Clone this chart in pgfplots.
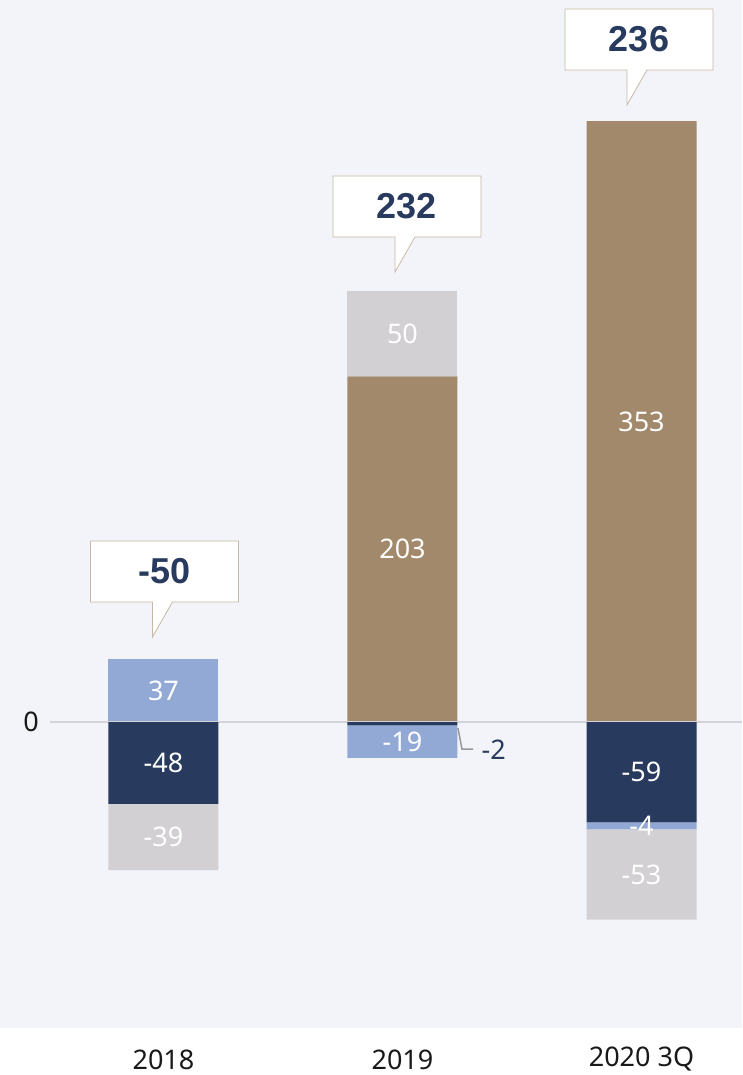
\documentclass[border=0pt]{standalone}
\usepackage{pgfplots}
\pgfplotsset{compat=1.18}
\usepackage{fontspec}
\setmainfont{Noto Sans}
\newfontfamily\calloutfont{Liberation Sans}

\definecolor{bgc}{HTML}{F3F4F9}
\definecolor{navy}{HTML}{283B5E}
\definecolor{lblue}{HTML}{92A9D6}
\definecolor{barbrown}{HTML}{A3896B}
\definecolor{lgray}{HTML}{D2D0D2}
\definecolor{boxc}{HTML}{C9B8A5}
\definecolor{zline}{HTML}{D3D3D8}

\pgfplotsset{
  base/.style={
    at={(0,47pt)}, anchor=south west,
    scale only axis, width=742pt, height=1028pt,
    xmin=-0.684, xmax=2.4205, ymin=-179.7, ymax=424.1,
    axis line style={draw=none}, major tick length=0,
    ybar stacked, bar width=110pt,
  },
}
\tikzset{
  lbl/.style={text=white, font=\fontsize{27}{32}\selectfont},
  cbox/.style={draw=boxc, fill=white, line width=0.8pt},
  ctxt/.style={text=navy, font=\calloutfont\bfseries\fontsize{36}{40}\selectfont},
}

\begin{document}
\begin{tikzpicture}
\useasboundingbox (0,0) rectangle (742pt,1075pt);

% background, zero line, ticks, positive stack
\begin{axis}[base,
    axis background/.style={fill=bgc},
    xtick={0,1,2}, xticklabels={2018,2019,2020 3Q},
    xticklabel style={anchor=center, yshift=-31.5pt, font=\fontsize{27}{32}\selectfont, text=black!90},
    ytick={0}, yticklabels={0},
    yticklabel style={anchor=center, xshift=31pt, font=\fontsize{27}{32}\selectfont, text=black!90},
  ]
  \draw[zline, line width=2pt] (axis cs:-0.473,0) -- (axis cs:2.4205,0);
  \addplot[fill=navy, draw=none]  coordinates {(0,0) (1,0) (2,0)};
  \addplot[fill=lblue, draw=none] coordinates {(0,37) (1,0) (2,0)};
  \addplot[fill=barbrown, draw=none] coordinates {(0,0) (1,203) (2,353)};
  \addplot[fill=lgray, draw=none] coordinates {(0,0) (1,50) (2,0)};
\end{axis}

% negative stack
\begin{axis}[base, xtick=\empty, ytick=\empty]
  \addplot[fill=navy, draw=none]  coordinates {(0,-48) (1,-2) (2,-59)};
  \addplot[fill=lblue, draw=none] coordinates {(0,0) (1,-19) (2,-4)};
  \addplot[fill=barbrown, draw=none] coordinates {(0,0) (1,0) (2,0)};
  \addplot[fill=lgray, draw=none] coordinates {(0,-39) (1,0) (2,-53)};
\end{axis}

% value labels
\begin{axis}[base, xtick=\empty, ytick=\empty, clip=false]
  \node[lbl] at (axis cs:0,18.5) {37};
  \node[lbl] at (axis cs:0,-24) {-48};
  \node[lbl] at (axis cs:0,-67.5) {-39};
  \node[lbl] at (axis cs:1,101.5) {203};
  \node[lbl] at (axis cs:1,228) {50};
  \node[lbl] at (axis cs:1,-11.5) {-19};
  \node[lbl] at (axis cs:2,176.5) {353};
  \node[lbl] at (axis cs:2,-29.5) {-59};
  \node[lbl] at (axis cs:2,-61) {-4};
  \node[lbl] at (axis cs:2,-89.5) {-53};
  \draw[black!40, line width=1.5pt] (axis cs:1.232,-3.5) -- (axis cs:1.249,-15.9) -- (axis cs:1.295,-15.9);
  \node[anchor=west, text=navy, font=\fontsize{27}{32}\selectfont, inner sep=0pt] at (axis cs:1.33,-16.4) {-2};
  \coordinate (c0) at (axis cs:0,70.5);
  \coordinate (c1) at (axis cs:1,284.9);
  \coordinate (c2) at (axis cs:2,383.0);
\end{axis}

% callouts with totals (box left edge offset from bar centre)
\foreach \c/\dx/\t in {c0/-73/-50, c1/-69.5/232, c2/-76.5/236} {
  \begin{scope}[shift={(\c)}, xshift=\dx pt]
    \draw[cbox]
      (0,0) -- (62pt,0) -- (62pt,-35pt) -- (82pt,0) -- (148pt,0) -- (148pt,61pt) -- (0,61pt) -- cycle;
    \node[ctxt] at (74pt,30.5pt) {\t};
  \end{scope}
}
\end{tikzpicture}
\end{document}
